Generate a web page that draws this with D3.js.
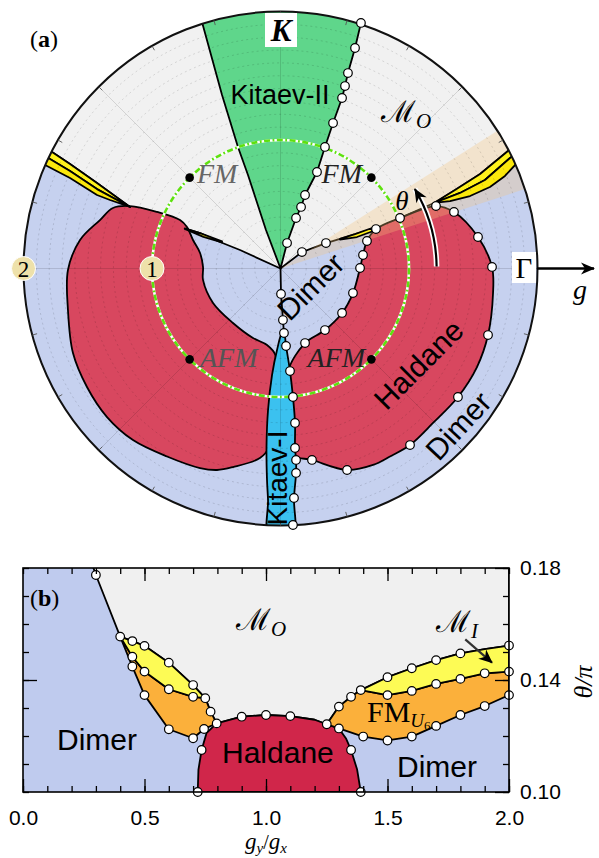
<!DOCTYPE html>
<html lang="en">
<head>
  <meta charset="UTF-8">
  <title>Phase diagram</title>
  <script src="https://d3js.org/d3.v7.min.js"></script>
  <style>
    body { margin: 0; background: #fff; }
    svg { display: block; }
  </style>
</head>
<body>
  <script>
    // ---------- panel (a): boundaries as [Gamma, K] in units of g ----------
    var mO = [[0,0],[-0.315,0.144],[-0.471,0.206],[-0.626,0.276],[-0.728,0.307],[-0.860,0.362],[-1.016,0.432],
      [-1.171,0.479],[-1.428,0.665],[-1.638,0.813],[-1.778,0.907],[-2.027,1.078],[-2.6,1.45],[-2.6,2.6],[2.6,2.6],
      [2.6,1.45],[2.019,1.125],[1.770,0.914],[1.553,0.735],[1.358,0.611],[1.195,0.510],[0.930,0.393],[0.743,0.307],
      [0.712,0.307],[0.580,0.268],[0.463,0.230],[0.354,0.198],[0.167,0.128]];

    var kitaev2 = [[0,0],[-0.113,0.300],[-0.253,0.728],[-0.331,0.946],[-0.455,1.350],[-0.611,1.918],[-0.642,2.2],
      [0.68,2.2],[0.626,1.911],[0.580,1.716],[0.525,1.521],[0.502,1.420],[0.479,1.327],[0.409,1.132],[0.346,0.946],
      [0.284,0.751],[0.191,0.572],[0.160,0.479],[0.121,0.393],[0.051,0.198]];

    var kitaev1 = [[0.012,-0.502],[-0.027,-0.634],[-0.066,-0.829],[-0.097,-1.101],[-0.109,-1.389],[-0.105,-1.646],
      [-0.097,-1.802],[-0.089,-2.1],[0.097,-2.1],[0.105,-1.786],[0.121,-1.591],[0.121,-1.490],[0.113,-1.397],
      [0.113,-1.202],[0.097,-1.000],[0.074,-0.798],[0.043,-0.603],[0.027,-0.502]];
    var kitaev1Stem = [[0,0],[0.004,-0.198],[0.019,-0.401],[0.027,-0.502]];

    var haldaneR = [[0.673,0.214],[0.743,0.307],[0.930,0.393],[1.210,0.486],[1.350,0.440],[1.537,0.245],[1.646,0.012],
      [1.654,-0.191],[1.615,-0.518],[1.529,-0.767],[1.381,-1.000],[1.187,-1.202],[1.008,-1.374],[0.852,-1.463],
      [0.720,-1.529],[0.518,-1.568],[0.245,-1.490],[0.10,-1.451],[0.09,-1.202],[0.075,-1.000],[0.06,-0.798],
      [0.191,-0.580],[0.346,-0.479],[0.479,-0.346],[0.564,-0.191],[0.619,0.004],[0.642,0.105]];

    var haldaneL = [[-1.304,0.471],[-1.171,0.486],[-0.961,0.440],[-0.782,0.377],[-0.728,0.323],[-0.681,0.222],
      [-0.626,0.121],[-0.603,0.012],[-0.603,-0.089],[-0.525,-0.268],[-0.370,-0.424],[-0.214,-0.541],[-0.105,-0.595],
      [-0.04,-0.673],[-0.05,-0.842],[-0.08,-1.101],[-0.09,-1.389],[-0.160,-1.475],[-0.370,-1.545],[-0.494,-1.568],
      [-0.626,-1.553],[-0.883,-1.463],[-1.148,-1.335],[-1.350,-1.156],[-1.506,-0.922],[-1.615,-0.658],[-1.654,-0.323],
      [-1.654,-0.012],[-1.560,0.222],[-1.405,0.377]];

    var bandLTop = [[-1.171,0.479],[-1.428,0.665],[-1.638,0.813],[-1.778,0.907],[-2.027,1.078]];
    var bandLMid = [[-1.171,0.479],[-1.428,0.618],[-1.638,0.759],[-1.794,0.852],[-2.027,0.992]];
    var bandLBot = [[-1.171,0.479],[-1.327,0.533],[-1.428,0.572],[-1.638,0.704],[-1.817,0.798],[-2.066,0.922]];
    var bandRTop = [[1.195,0.510],[1.358,0.611],[1.553,0.735],[1.770,0.914],[2.019,1.125]];
    var bandRMid = [[1.195,0.510],[1.397,0.588],[1.591,0.689],[1.786,0.860],[2.019,1.023]];
    var bandRBot = [[1.195,0.510],[1.319,0.525],[1.475,0.564],[1.630,0.634],[1.747,0.720],[1.825,0.805],[2.019,0.938]];
    var sliverL = [[-0.745,0.313],[-0.626,0.276],[-0.455,0.212],[-0.455,0.204],[-0.600,0.246],[-0.745,0.308]];
    var sliverR = [[0.463,0.230],[0.580,0.268],[0.712,0.315],[0.712,0.288],[0.595,0.245],[0.463,0.224]];

    var dotsA = [[0.051,0.198],[0.121,0.393],[0.160,0.479],[0.191,0.572],[0.284,0.751],[0.346,0.946],[0.409,1.132],
      [0.479,1.327],[0.502,1.420],[0.525,1.521],[0.580,1.716],[0.626,1.911],
      [0.004,-0.198],[0.019,-0.401],[0.027,-0.502],[0.043,-0.603],[0.074,-0.798],[0.097,-1.000],[0.113,-1.202],
      [0.113,-1.397],[0.121,-1.490],[0.121,-1.591],[0.105,-1.786],[0.097,-1.996],
      [0.167,0.128],[0.354,0.198],[0.673,0.214],[0.743,0.307],[0.930,0.393],[1.210,0.486],[1.350,0.440],
      [1.537,0.245],[1.646,0.012],[1.615,-0.518],[1.381,-1.000],[1.008,-1.374],[0.518,-1.568],[0.245,-1.490],
      [0.642,0.105],[0.619,0.004],[0.564,-0.191],[0.479,-0.346],[0.346,-0.479],[0.191,-0.580]];

    // special points on the g = 1 circle (angle in units of pi)
    var specialTheta = [0.25, 0.75, 1.25, 1.75];
    var specialNames = ["FM", "FM", "AFM", "AFM"];

    // ---------- panel (b): [g_y/g_x, theta/pi] ----------
    var bMO = [[0.29,0.18],[0.30,0.1775],[0.40,0.1555],[0.45,0.1539],[0.50,0.1522],[0.60,0.1462],[0.70,0.1382],
      [0.75,0.1335],[0.772,0.1287],[0.797,0.1245],[0.90,0.1269],[1.00,0.1275],[1.10,0.1271],[1.20,0.1258],
      [1.25,0.1242],[1.30,0.1305],[1.35,0.134],[1.39,0.1364],[1.50,0.141],[1.60,0.1442],[1.70,0.1471],
      [1.80,0.1495],[1.90,0.151],[2.00,0.1523],[2.00,0.18]];
    var bYellowL = [[0.40,0.1555],[0.45,0.1539],[0.50,0.1522],[0.60,0.1462],[0.70,0.1382],[0.75,0.1335],
      [0.70,0.1340],[0.60,0.1367],[0.50,0.1430],[0.45,0.1483]];
    var bOrangeL = [[0.40,0.1555],[0.45,0.1483],[0.50,0.1430],[0.60,0.1367],[0.70,0.1340],[0.75,0.1335],
      [0.772,0.1287],[0.797,0.1245],[0.745,0.1225],[0.70,0.1192],[0.60,0.1224],[0.50,0.1346],[0.45,0.1448]];
    var bHaldane = [[0.719,0.10],[0.722,0.108],[0.735,0.115],[0.755,0.121],[0.797,0.1245],[0.90,0.1269],
      [1.00,0.1275],[1.10,0.1271],[1.20,0.1258],[1.25,0.1242],[1.30,0.1227],[1.33,0.119],[1.35,0.115],
      [1.375,0.108],[1.39,0.10]];
    var bOrangeR = [[1.25,0.1242],[1.30,0.1305],[1.35,0.134],[1.39,0.1364],[1.50,0.1346],[1.60,0.1361],
      [1.70,0.1386],[1.80,0.1404],[1.90,0.1424],[2.00,0.1430],[2.00,0.1346],[1.90,0.1307],[1.80,0.1275],
      [1.70,0.1236],[1.60,0.1198],[1.50,0.1184],[1.40,0.1198],[1.30,0.1227]];
    var bYellowR = [[1.39,0.1364],[1.50,0.141],[1.60,0.1442],[1.70,0.1471],[1.80,0.1495],[1.90,0.151],
      [2.00,0.1523],[2.00,0.1430],[1.90,0.1424],[1.80,0.1404],[1.70,0.1386],[1.60,0.1361],[1.50,0.1346]];
    var bDots = [[0.30,0.1775],[0.40,0.1555],[0.45,0.1539],[0.50,0.1522],[0.60,0.1462],[0.70,0.1382],[0.75,0.1335],
      [0.45,0.1483],[0.50,0.1430],[0.60,0.1367],[0.70,0.1340],[0.45,0.1448],[0.50,0.1346],[0.60,0.1224],
      [0.70,0.1192],[0.745,0.1225],[0.772,0.1287],[0.797,0.1245],[0.90,0.1269],[1.00,0.1275],[1.10,0.1271],
      [0.735,0.115],[0.719,0.10],[1.25,0.1242],[1.30,0.1227],[1.35,0.115],[1.39,0.10],[1.30,0.1305],[1.35,0.134],
      [1.39,0.1364],[1.50,0.141],[1.60,0.1442],[1.70,0.1471],[1.80,0.1495],[2.00,0.1523],[1.50,0.1346],
      [1.60,0.1361],[1.70,0.1386],[1.80,0.1404],[1.90,0.1424],[2.00,0.1430],[1.40,0.1198],[1.50,0.1184],
      [1.60,0.1198],[1.70,0.1236],[1.80,0.1275],[1.90,0.1307],[2.00,0.1346]];
    var bXTicks = [0, 0.5, 1, 1.5, 2];
    var bYTicks = [0.10, 0.14, 0.18];

    var serif = '"Liberation Serif", "DejaVu Serif", serif';
    var sans = '"Liberation Sans", Arial, sans-serif';

    var svg = d3.select("body").append("svg").attr("width", 599).attr("height", 858);
    var defs = svg.append("defs");

    // ================= panel (a) =================
    var cx = 280.5, cy = 268.5, R = 257;
    var gx = d3.scaleLinear().domain([-2, 2]).range([cx - R, cx + R]);
    var gy = d3.scaleLinear().domain([-2, 2]).range([cy + R, cy - R]);
    var rr = d3.scaleLinear().domain([0, 2]).range([0, R]);

    defs.append("clipPath").attr("id", "disk")
      .append("circle").attr("cx", cx).attr("cy", cy).attr("r", R);
    defs.append("marker").attr("id", "head")
      .attr("viewBox", "-14 -7 16 14").attr("refX", 0).attr("refY", 0)
      .attr("markerWidth", 16).attr("markerHeight", 14)
      .attr("markerUnits", "userSpaceOnUse").attr("orient", "auto")
      .append("path").attr("d", "M-13,-6L1,0L-13,6L-9,0Z").attr("fill", "#000");

    var lin = d3.line().x(d => gx(d[0])).y(d => gy(d[1])).curve(d3.curveLinearClosed);
    var smooth = d3.line().x(d => gx(d[0])).y(d => gy(d[1])).curve(d3.curveCatmullRomClosed.alpha(0.5));
    var open = d3.line().x(d => gx(d[0])).y(d => gy(d[1]));

    var A = svg.append("g").attr("clip-path", "url(#disk)");
    A.append("circle").attr("cx", cx).attr("cy", cy).attr("r", R).attr("fill", "#c6d1ef");

    function region(gen, pts, fill) {
      A.append("path").attr("d", gen(pts)).attr("fill", fill)
        .attr("stroke", "#000").attr("stroke-width", 1.8).attr("stroke-linejoin", "round");
    }
    region(lin, mO, "#f1f1f1");
    region(smooth, haldaneL, "#d8475f");
    region(smooth, haldaneR, "#d8475f");

    // highlighted theta window of panel (b)
    A.append("path")
      .attr("transform", "translate(" + cx + "," + cy + ")")
      .attr("d", d3.arc()({ innerRadius: 0, outerRadius: R,
        startAngle: Math.PI / 2 - 0.18 * Math.PI, endAngle: Math.PI / 2 - 0.10 * Math.PI }))
      .attr("fill", "#f5c27a").attr("opacity", 0.3);

    region(lin, bandLTop.concat(bandLMid.slice().reverse()), "#fff21c");
    region(lin, bandLMid.concat(bandLBot.slice().reverse()), "#fbe80c");
    region(lin, bandRTop.concat(bandRMid.slice().reverse()), "#fff21c");
    region(lin, bandRMid.concat(bandRBot.slice().reverse()), "#fbe80c");
    region(lin, sliverL, "#fff21c");
    region(lin, sliverR, "#fff21c");
    region(lin, kitaev2, "#5fd68b");
    region(smooth, kitaev1, "#3bc1ef");
    A.append("path").attr("d", open(kitaev1Stem)).attr("fill", "none")
      .attr("stroke", "#000").attr("stroke-width", 1.8);

    // polar grid
    A.selectAll(".ring").data(d3.range(1, 20)).enter().append("circle")
      .attr("cx", cx).attr("cy", cy).attr("r", d => rr(d / 10))
      .attr("fill", "none").attr("stroke", "rgba(0,0,0,0.16)")
      .attr("stroke-width", 0.8).attr("stroke-dasharray", "2,3");
    A.selectAll(".spoke").data(d3.range(0, 8)).enter().append("line")
      .attr("x1", cx).attr("y1", cy)
      .attr("x2", d => gx(2 * Math.cos(d * Math.PI / 4)))
      .attr("y2", d => gy(2 * Math.sin(d * Math.PI / 4)))
      .attr("stroke", "rgba(0,0,0,0.18)").attr("stroke-width", 0.7);

    // g = 1 circle
    svg.append("circle").attr("cx", cx).attr("cy", cy).attr("r", rr(1))
      .attr("fill", "none").attr("stroke", "#fff").attr("stroke-width", 2.6);
    svg.append("circle").attr("cx", cx).attr("cy", cy).attr("r", rr(1))
      .attr("fill", "none").attr("stroke", "#5ee10f").attr("stroke-width", 2.6)
      .attr("stroke-dasharray", "6,2.5,1.8,2.5");

    // outer rim and angular ticks
    svg.append("circle").attr("cx", cx).attr("cy", cy).attr("r", R)
      .attr("fill", "none").attr("stroke", "#111").attr("stroke-width", 2);
    svg.selectAll(".rimtick").data(d3.range(0, 24)).enter().append("line")
      .attr("x1", d => cx + R * Math.cos(d * Math.PI / 12))
      .attr("y1", d => cy - R * Math.sin(d * Math.PI / 12))
      .attr("x2", d => cx + (R - 5) * Math.cos(d * Math.PI / 12))
      .attr("y2", d => cy - (R - 5) * Math.sin(d * Math.PI / 12))
      .attr("stroke", "#555").attr("stroke-width", 0.9);

    // theta arrow
    var arcP = d3.path();
    arcP.arc(cx, cy, rr(1.215), -0.004 * Math.PI, -0.17 * Math.PI, true);
    svg.append("path").attr("d", arcP.toString()).attr("fill", "none")
      .attr("stroke", "#fff").attr("stroke-width", 5.5);
    svg.append("path").attr("d", arcP.toString()).attr("fill", "none")
      .attr("stroke", "#000").attr("stroke-width", 2.2).attr("marker-end", "url(#head)");

    // boundary points
    svg.selectAll(".dotA").data(dotsA).enter().append("circle")
      .attr("cx", d => gx(d[0])).attr("cy", d => gy(d[1])).attr("r", 4.3)
      .attr("fill", "#fff").attr("stroke", "#000").attr("stroke-width", 1.2);

    // FM / AFM points
    svg.selectAll(".sp").data(specialTheta).enter().append("circle")
      .attr("cx", d => gx(Math.cos(d * Math.PI))).attr("cy", d => gy(Math.sin(d * Math.PI)))
      .attr("r", 4.3).attr("fill", "#000");

    function txt(x, y, s, o) {
      o = o || {};
      var t = svg.append("text").attr("x", x).attr("y", y).text(s)
        .attr("font-family", o.family || sans).attr("font-size", o.size || 28)
        .attr("fill", o.fill || "#000").attr("text-anchor", o.anchor || "start");
      if (o.style) t.attr("font-style", o.style);
      if (o.weight) t.attr("font-weight", o.weight);
      if (o.rotate) t.attr("transform", "rotate(" + o.rotate + "," + x + "," + y + ")");
      return t;
    }

    // special point labels
    txt(197, 183, specialNames[1], { family: serif, style: "italic", size: 28, fill: "#666" });
    txt(362, 183, specialNames[0], { family: serif, style: "italic", size: 28, fill: "#222", anchor: "end" });
    txt(200, 367, specialNames[2], { family: serif, style: "italic", size: 28, fill: "#555" });
    txt(365, 367, specialNames[3], { family: serif, style: "italic", size: 28, fill: "#222", anchor: "end" });

    // panel label (a)
    var la = txt(30, 47, "(", { family: serif, size: 24 });
    la.append("tspan").attr("font-weight", "bold").text("a");
    la.append("tspan").text(")");

    // K box
    svg.append("rect").attr("x", 265).attr("y", 13).attr("width", 32).attr("height", 34).attr("fill", "#fff");
    txt(281, 41, "K", { family: serif, style: "italic", weight: "bold", size: 31, anchor: "middle" });

    txt(280, 104, "Kitaev-II", { size: 27, anchor: "middle" });
    var mo = txt(381, 122, "\u2133", { family: '"DejaVu Serif", serif', size: 30 });
    mo.append("tspan").attr("font-family", serif).attr("font-style", "italic").attr("font-size", 21)
      .attr("dy", 6).text("O");
    txt(402, 210, "\u03B8", { family: serif, style: "italic", size: 27, anchor: "middle" });

    // Gamma axis arrow
    svg.append("rect").attr("x", 512).attr("y", 252).attr("width", 24).attr("height", 31).attr("fill", "#fff");
    txt(524, 278, "\u0393", { family: serif, size: 29, anchor: "middle" });
    svg.append("line").attr("x1", 537).attr("y1", cy).attr("x2", 594).attr("y2", cy)
      .attr("stroke", "#000").attr("stroke-width", 2.4).attr("marker-end", "url(#head)");
    txt(580, 299, "g", { family: serif, style: "italic", size: 28, anchor: "middle" });

    txt(318, 294, "Dimer", { size: 30, anchor: "middle", rotate: -45 });
    txt(426, 372, "Haldane", { size: 30, anchor: "middle", rotate: -45 });
    txt(466, 433, "Dimer", { size: 30, anchor: "middle", rotate: -47 });
    txt(287, 478, "Kitaev-I", { size: 28, anchor: "middle", rotate: -90 });

    // radius markers
    [1, 2].forEach(function (v) {
      svg.append("circle").attr("cx", cx - rr(v)).attr("cy", cy).attr("r", 12)
        .attr("fill", "#eee1aa").attr("stroke", "#fff").attr("stroke-width", 1);
      txt(cx - rr(v), cy + 8, String(v), { family: serif, size: 23, anchor: "middle" });
    });

    // ================= panel (b) =================
    var bx = d3.scaleLinear().domain([0, 2]).range([23, 509]);
    var by = d3.scaleLinear().domain([0.10, 0.18]).range([792, 568]);
    defs.append("clipPath").attr("id", "frameB").append("rect")
      .attr("x", 23).attr("y", 568).attr("width", 486).attr("height", 224);
    var lineB = d3.line().x(d => bx(d[0])).y(d => by(d[1])).curve(d3.curveLinearClosed);
    var B = svg.append("g").attr("clip-path", "url(#frameB)");
    B.append("rect").attr("x", 23).attr("y", 568).attr("width", 486).attr("height", 224).attr("fill", "#bfcbee");
    function regionB(pts, fill) {
      B.append("path").attr("d", lineB(pts)).attr("fill", fill)
        .attr("stroke", "#000").attr("stroke-width", 1.8).attr("stroke-linejoin", "round");
    }
    regionB(bMO.concat([[2.1, 0.19], [0.2, 0.19]]), "#f0f0f0");
    regionB(bHaldane, "#d0264a");
    regionB(bOrangeL, "#fbb03b");
    regionB(bYellowL, "#fdfb55");
    regionB(bOrangeR, "#fbb03b");
    regionB(bYellowR, "#fdfb55");

    svg.selectAll(".dotB").data(bDots).enter().append("circle")
      .attr("cx", d => bx(d[0])).attr("cy", d => by(d[1])).attr("r", 4.3)
      .attr("fill", "#fff").attr("stroke", "#000").attr("stroke-width", 1.2);

    svg.append("rect").attr("x", 23).attr("y", 568).attr("width", 486).attr("height", 224)
      .attr("fill", "none").attr("stroke", "#000").attr("stroke-width", 1.6);

    function axisLayer(axis, tr) {
      var g = svg.append("g").attr("transform", tr).call(axis);
      g.select(".domain").remove();
      g.selectAll("line").attr("stroke", "#000").attr("stroke-width", 1.3);
      g.selectAll("text").attr("font-size", 21).attr("font-family", sans).attr("fill", "#000");
      return g;
    }
    var minorX = d3.range(0, 2.001, 0.1), minorY = d3.range(0.10, 0.1801, 0.01);
    axisLayer(d3.axisBottom(bx).tickValues(minorX).tickSize(-6).tickFormat(""), "translate(0,792)");
    axisLayer(d3.axisBottom(bx).tickValues(bXTicks).tickSize(-13).tickPadding(18).tickFormat(d3.format(".1f")),
      "translate(0,792)");
    axisLayer(d3.axisTop(bx).tickValues(minorX).tickSize(-6).tickFormat(""), "translate(0,568)");
    axisLayer(d3.axisTop(bx).tickValues([0.5, 1, 1.5]).tickSize(-13).tickFormat(""), "translate(0,568)");
    axisLayer(d3.axisLeft(by).tickValues(minorY).tickSize(-6).tickFormat(""), "translate(23,0)");
    axisLayer(d3.axisLeft(by).tickValues([0.14]).tickSize(-14).tickFormat(""), "translate(23,0)");
    axisLayer(d3.axisRight(by).tickValues(minorY).tickSize(-6).tickFormat(""), "translate(509,0)");
    axisLayer(d3.axisRight(by).tickValues(bYTicks).tickSize(-14).tickPadding(11).tickFormat(d3.format(".2f")),
      "translate(509,0)");

    // axis titles
    var xl = txt(266, 849, "g", { family: serif, style: "italic", size: 23, anchor: "middle" });
    xl.append("tspan").attr("font-size", 15).attr("dy", 4).text("y");
    xl.append("tspan").attr("dy", -4).attr("font-style", "normal").attr("font-size", 20).text("/");
    xl.append("tspan").text("g");
    xl.append("tspan").attr("font-size", 15).attr("dy", 4).text("x");
    txt(592, 682, "\u03B8/\u03C0", { family: serif, style: "italic", size: 26, anchor: "middle", rotate: -90 });

    // panel (b) labels
    var lb = txt(30, 606, "(", { family: serif, size: 24 });
    lb.append("tspan").attr("font-weight", "bold").text("b");
    lb.append("tspan").text(")");
    var mo2 = txt(236, 630, "\u2133", { family: '"DejaVu Serif", serif', size: 30 });
    mo2.append("tspan").attr("font-family", serif).attr("font-style", "italic").attr("font-size", 21)
      .attr("dy", 6).text("O");
    var mi = txt(436, 632, "\u2133", { family: '"DejaVu Serif", serif', size: 30 });
    mi.append("tspan").attr("font-family", serif).attr("font-style", "italic").attr("font-size", 21)
      .attr("dy", 6).text("I");
    svg.append("line").attr("x1", bx(1.82)).attr("y1", by(0.1545)).attr("x2", bx(1.93)).attr("y2", by(0.1462))
      .attr("stroke", "#333").attr("stroke-width", 2.2).attr("marker-end", "url(#head)");
    var fm = txt(367, 722, "FM", { family: serif, size: 30 });
    fm.append("tspan").attr("font-style", "italic").attr("font-size", 19).attr("dy", 5).text("U");
    fm.append("tspan").attr("font-size", 13).attr("dy", 3).text("6");

    txt(57, 750, "Dimer", { size: 30 });
    txt(222, 763, "Haldane", { size: 30 });
    txt(397, 777, "Dimer", { size: 30 });
  </script>
</body>
</html>
